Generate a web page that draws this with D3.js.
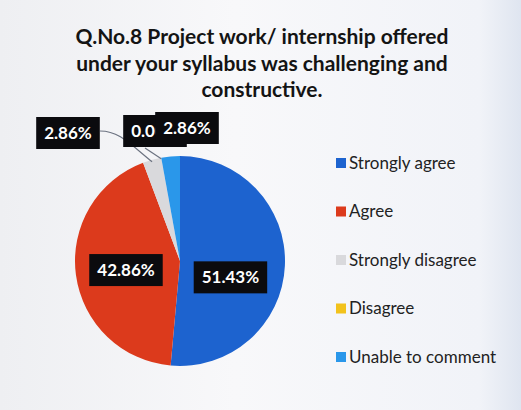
<!DOCTYPE html>
<html>
<head>
<meta charset="utf-8">
<script src="https://cdn.jsdelivr.net/npm/d3@7"></script>
<style>
  html, body { margin: 0; padding: 0; background: #f3f4f7; }
  svg { display: block; }
</style>
</head>
<body>
<div id="chart"></div>
<script>
var categories = ["Strongly agree", "Agree", "Strongly disagree", "Disagree", "Unable to comment"];
var percents = [51.43, 42.86, 2.86, 0, 2.86];
var labels = ["51.43%", "42.86%", "2.86%", "0.00%", "2.86%"];
var colours = ["#1d63cf", "#dc3a1c", "#d9d9dc", "#f2c21c", "#2a97ea"];
var titleLines = ["Q.No.8 Project work/ internship offered",
                  "under your syllabus was challenging and",
                  "constructive."];

var svgWidth = 521,
    svgHeight = 410,
    cx = 180,
    cy = 261,
    radius = 105;

var svg = d3.select('#chart')
  .append('svg')
    .attr('width', svgWidth)
    .attr('height', svgHeight);

// photo-ish background, bluish at the right edge
var grad = svg.append('defs').append('linearGradient')
    .attr('id', 'bg')
    .attr('x1', '0%').attr('x2', '100%');
grad.append('stop').attr('offset', '0%').attr('stop-color', '#eeeff2');
grad.append('stop').attr('offset', '45%').attr('stop-color', '#f8f8fa');
grad.append('stop').attr('offset', '92%').attr('stop-color', '#f1f3f8');
grad.append('stop').attr('offset', '100%').attr('stop-color', '#dfe5f0');
svg.append('rect')
    .attr('width', svgWidth).attr('height', svgHeight)
    .style('fill', 'url(#bg)');

svg.append('g').selectAll('text').data(titleLines)
  .enter().append('text')
    .attr('x', 262)
    .attr('y', function (d, i) { return 44 + i * 26.5; })
    .attr('text-anchor', 'middle')
    .style('font-family', 'Lato, sans-serif')
    .style('font-weight', 700)
    .style('font-size', '21px')
    .style('fill', '#141414')
    .text(function (d) { return d; });

var pie = d3.pie().sort(null).value(function (d) { return d; });
var arcs = pie(percents);
var arc = d3.arc().innerRadius(0).outerRadius(radius);
var labelArc = d3.arc().innerRadius(radius * 0.5).outerRadius(radius * 0.5);

var g = svg.append('g').attr('transform', 'translate(' + cx + ',' + cy + ')');

g.selectAll('path').data(arcs)
  .enter().append('path')
    .attr('d', arc)
    .style('fill', function (d, i) { return colours[i]; });

// leader lines for the small slices
function edge(d, r) {
  var a = (d.startAngle + d.endAngle) / 2;
  return [r * Math.sin(a), -r * Math.cos(a)];
}
var outside = {
  2: { x: 68, y: 133 },
  3: { x: 155, y: 131 },
  4: { x: 187, y: 128 }
};

var p2 = edge(arcs[2], radius);
g.append('path')
    .attr('d', 'M' + (100 - cx) + ',' + (131 - cy) +
               ' C' + (118 - cx) + ',' + (131 - cy) + ' ' + (128 - cx) + ',' + (142 - cy) +
               ' ' + (p2[0]) + ',' + (p2[1] + 2))
    .style('fill', 'none').style('stroke', '#6b7280').style('stroke-width', 1.2);
var p3 = edge(arcs[3], radius);
g.append('line')
    .attr('x1', 145 - cx).attr('y1', 148 - cy)
    .attr('x2', p3[0]).attr('y2', p3[1] + 1)
    .style('stroke', '#6b7280').style('stroke-width', 1.2);

function drawLabel(i, x, y) {
  var lg = svg.append('g').attr('transform', 'translate(' + x + ',' + y + ')');
  var box = lg.append('rect').style('fill', '#0b0b0e');
  var t = lg.append('text')
      .attr('text-anchor', 'middle')
      .attr('dy', '0.35em')
      .style('font-family', 'Lato, sans-serif')
      .style('font-weight', 700)
      .style('font-size', '17px')
      .style('fill', '#ffffff')
      .text(labels[i]);
  var bb = t.node().getBBox();
  box.attr('x', -bb.width / 2 - 8).attr('y', -16)
     .attr('width', bb.width + 16).attr('height', 32);
}

[3, 2, 4].forEach(function (i) { drawLabel(i, outside[i].x, outside[i].y); });
[0, 1].forEach(function (i) {
  var c = labelArc.centroid(arcs[i]);
  drawLabel(i, cx + c[0] - 2, cy + c[1] + (i === 0 ? 14 : 2));
});

var legend = svg.append('g').selectAll('g').data(categories)
  .enter().append('g')
    .attr('transform', function (d, i) { return 'translate(336,' + (163 + i * 48.5) + ')'; });
legend.append('rect')
    .attr('x', 0).attr('y', -5)
    .attr('width', 10).attr('height', 10)
    .style('fill', function (d, i) { return colours[i]; });
legend.append('text')
    .attr('x', 13)
    .attr('dy', '0.35em')
    .style('font-family', 'Lato, sans-serif')
    .style('font-size', '17px')
    .style('fill', '#222')
    .text(function (d) { return d; });
</script>
</body>
</html>
